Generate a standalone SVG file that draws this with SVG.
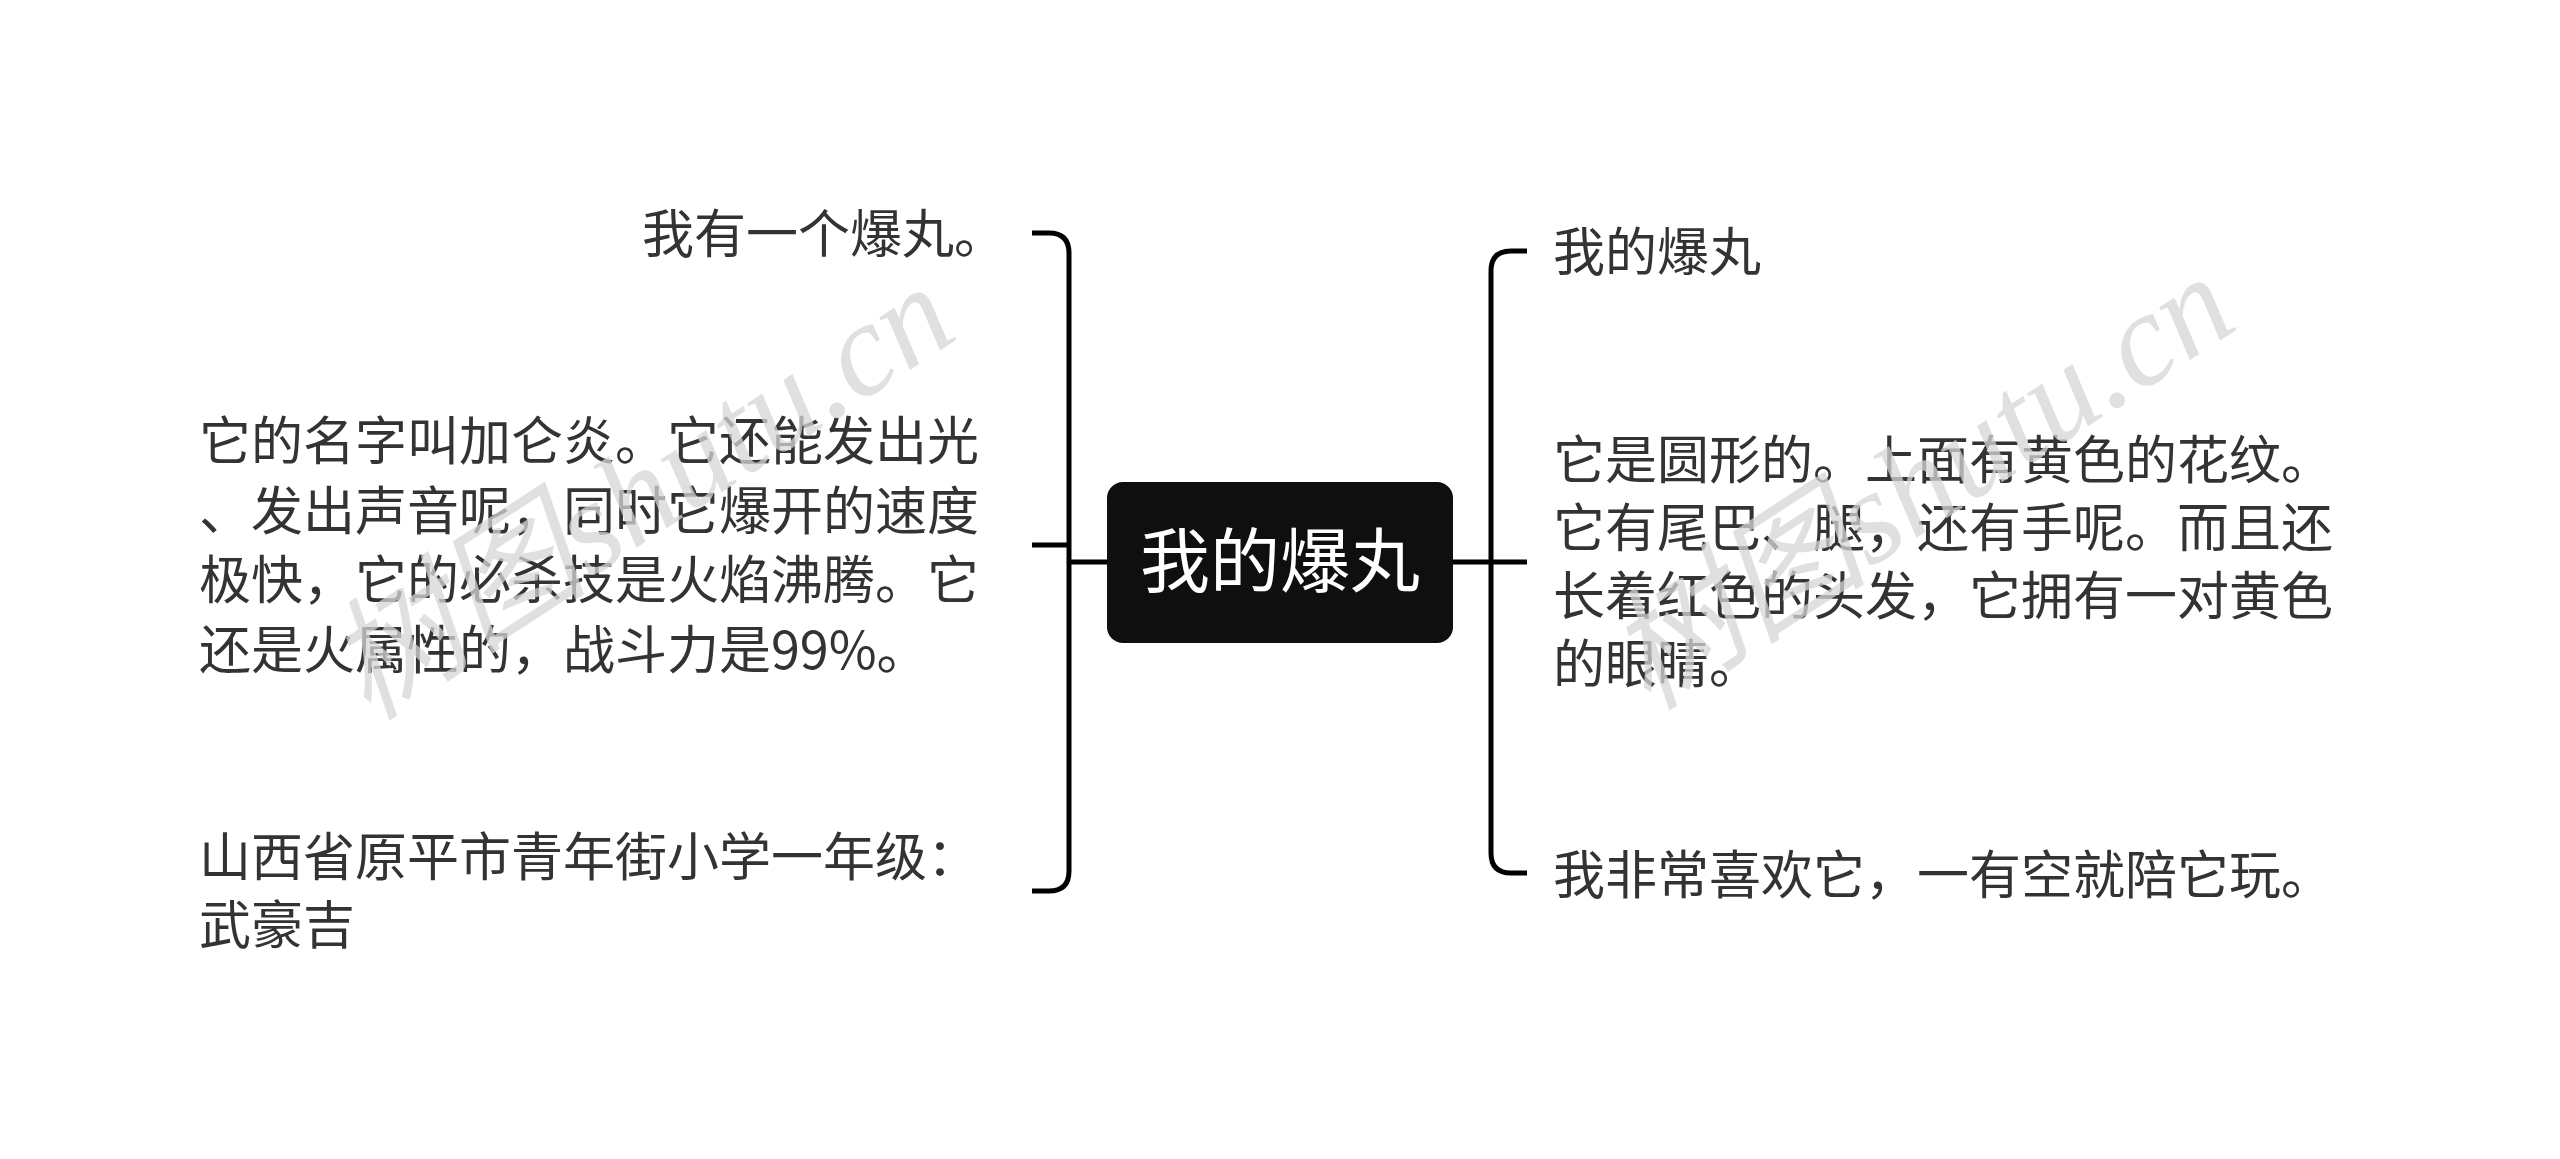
<svg xmlns="http://www.w3.org/2000/svg" width="2560" height="1159" viewBox="0 0 2560 1159">
<style>
.t{font-family:"Noto Sans CJK SC","Liberation Sans",sans-serif;font-size:52px;fill:#333333;}
.c{font-family:"Noto Sans CJK SC","Liberation Sans",sans-serif;font-size:70px;fill:#ffffff;}
.ln{fill:none;stroke:#000000;stroke-width:5;stroke-linecap:butt;}
.wm{font-family:"Liberation Serif","Noto Sans CJK SC",serif;font-style:italic;font-size:132px;fill:#d6d6d6;opacity:0.75;}
</style>
<rect width="2560" height="1159" fill="#ffffff"/>
<g id="connectors">
<path class="ln" d="M1032,233 H1049 Q1069,233 1069,253 V871 Q1069,891 1049,891 H1032"/>
<path class="ln" d="M1032,545 H1069"/>
<path class="ln" d="M1069,562 H1107"/>
<path class="ln" d="M1527,251 H1511 Q1491,251 1491,271 V853 Q1491,873 1511,873 H1527"/>
<path class="ln" d="M1453,562 H1527"/>
</g>
<g id="root">
<rect x="1107" y="482" width="346" height="161" rx="16" fill="#0f0f0f"/>
<text class="c" x="1280" y="587" text-anchor="middle">我的爆丸</text>
</g>
<g id="left1">
<text class="t" x="642" y="253">我有一个爆丸。</text>
</g>
<g id="left2">
<text class="t" x="199" y="460">它的名字叫加仑炎。它还能发出光</text>
<text class="t" x="199" y="529.5">、发出声音呢，同时它爆开的速度</text>
<text class="t" x="199" y="599">极快，它的必杀技是火焰沸腾。它</text>
<text class="t" x="199" y="668.5">还是火属性的，战斗力是99%。</text>
</g>
<g id="left3">
<text class="t" x="199" y="876">山西省原平市青年街小学一年级：</text>
<text class="t" x="199" y="944">武豪吉</text>
</g>
<g id="right1">
<text class="t" x="1553" y="270.5">我的爆丸</text>
</g>
<g id="right2">
<text class="t" x="1553" y="478.5">它是圆形的。上面有黄色的花纹。</text>
<text class="t" x="1553" y="546.5">它有尾巴、腿，还有手呢。而且还</text>
<text class="t" x="1553" y="615">长着红色的头发，它拥有一对黄色</text>
<text class="t" x="1553" y="683">的眼睛。</text>
</g>
<g id="right3">
<text class="t" x="1553" y="893.5">我非常喜欢它，一有空就陪它玩。</text>
</g>
<g id="watermark">
<text class="wm" transform="translate(368,722) rotate(-33)">树图shutu.cn</text>
<text class="wm" transform="translate(1648,712) rotate(-33)">树图shutu.cn</text>
</g>
</svg>
